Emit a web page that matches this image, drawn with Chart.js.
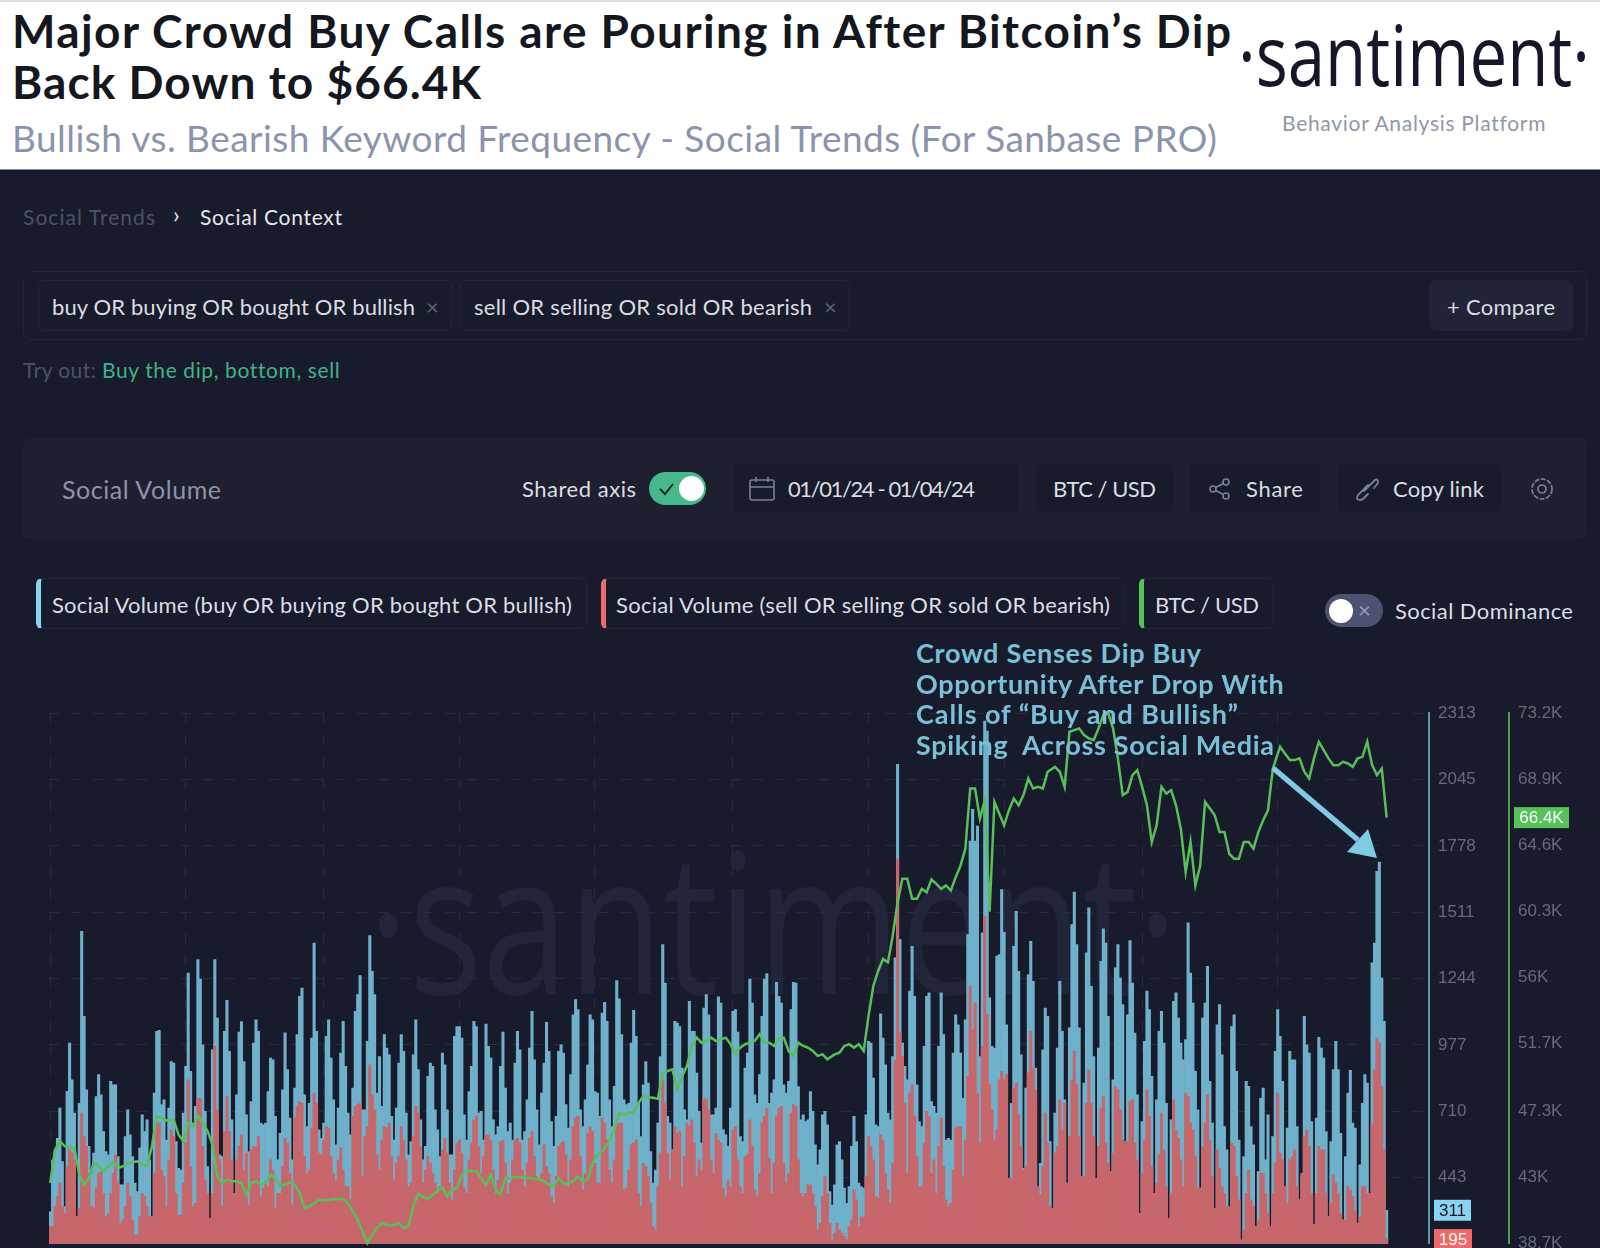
<!DOCTYPE html>
<html>
<head>
<meta charset="utf-8">
<title>Social Trends</title>
<script src="https://cdn.jsdelivr.net/npm/chart.js@4"></script>
<style>
  html, body { margin: 0; padding: 0; }
  body { width: 1600px; height: 1248px; overflow: hidden; background: #181b2b; position: relative; font-family: Lato, sans-serif; }
  .t { position: absolute; white-space: pre; line-height: 1; }
  .c { transform: translateY(-50%); }
  .box { position: absolute; box-sizing: border-box; border-radius: 6px; }
  .chip { border: 1px solid #222536; }
  .dark { background: #181b2b; }
  #head { position: absolute; left: 0; top: 0; width: 1600px; height: 170px; background: #fff; border-top: 2px solid #ddd; border-bottom: 1px solid #8b8f9c; box-sizing: border-box; }
  #chartWrap { position: absolute; left: 0; top: 690px; width: 1600px; height: 573px; }
  svg { position: absolute; overflow: visible; }
</style>
</head>
<body>
<div id="head"></div>
<div class="t" data-w="1218" style="left:12px;top:8px;font-size:46px;font-weight:700;color:#15171f">Major Crowd Buy Calls are Pouring in After Bitcoin’s Dip</div>
<div class="t" data-w="469" style="left:12px;top:59px;font-size:46px;font-weight:700;color:#15171f">Back Down to $66.4K</div>
<div class="t" data-w="1205" style="left:12px;top:119px;font-size:37px;color:#8b94ad">Bullish vs. Bearish Keyword Frequency - Social Trends (For Sanbase PRO)</div>
<div class="t" data-sx="352" style="left:1238px;top:12px;font-size:84px;font-family:'Open Sans';color:#14162a">·santiment·</div>
<div class="t" data-w="263" style="left:1282px;top:112px;font-size:21px;color:#8f97a8">Behavior Analysis Platform</div>

<div class="t" data-sx="810" style="left:368px;top:820px;font-size:196px;font-family:'Open Sans';color:#22253a">·santiment·</div>

<div class="t c" data-w="132" style="left:23px;top:216px;font-size:21px;color:#4d5266">Social Trends</div>
<div class="t c" style="left:173px;top:214px;font-size:24px;color:#e6e7ec">›</div>
<div class="t c" data-w="142" style="left:200px;top:216px;font-size:21px;color:#e6e7ec">Social Context</div>

<div class="box chip" style="left:23px;top:271px;width:1564px;height:69px;border-radius:8px"></div>
<div class="box chip" style="left:38px;top:280px;width:414px;height:51px"></div>
<div class="t c" data-w="363" style="left:52px;top:307px;font-size:22px;color:#dcdde3">buy OR buying OR bought OR bullish</div>
<div class="t c" style="left:426px;top:307px;font-size:22px;color:#5d6175">×</div>
<div class="box chip" style="left:460px;top:280px;width:390px;height:51px"></div>
<div class="t c" data-w="338" style="left:474px;top:307px;font-size:22px;color:#dcdde3">sell OR selling OR sold OR bearish</div>
<div class="t c" style="left:824px;top:307px;font-size:22px;color:#5d6175">×</div>
<div class="box" style="left:1429px;top:280px;width:144px;height:51px;background:#212436;border-radius:8px"></div>
<div class="t c" data-w="108" style="left:1447px;top:307px;font-size:22px;color:#dcdde3">+ Compare</div>

<div class="t c" data-w="73" style="left:23px;top:369px;font-size:21px;color:#4d5266">Try out:</div>
<div class="t c" data-w="237" style="left:102px;top:369px;font-size:21px;color:#3fb489">Buy the dip, bottom, sell</div>

<div class="box" style="left:23px;top:438px;width:1564px;height:101px;background:#1e2030"></div>
<div class="t c" data-w="159" style="left:62px;top:489px;font-size:25px;color:#8d93ab">Social Volume</div>
<div class="t c" data-w="114" style="left:522px;top:489px;font-size:22px;color:#dcdde3">Shared axis</div>
<div class="box" style="left:649px;top:472px;width:57px;height:33px;border-radius:17px;background:#46b98c"></div>
<div class="box" style="left:679px;top:476px;width:25px;height:25px;border-radius:13px;background:#fff"></div>
<svg style="left:659px;top:482px" width="16" height="14"><path d="M1 7 L6 12 L14 2" fill="none" stroke="#14262a" stroke-width="2"/></svg>

<div class="box dark" style="left:734px;top:464px;width:285px;height:48px"></div>
<svg style="left:749px;top:477px" width="26" height="24" fill="none" stroke="#7b8098" stroke-width="1.6"><rect x="1" y="3" width="24" height="20" rx="2"/><path d="M1 10 H25 M7 0 V5 M19 0 V5"/></svg>
<div class="t c" data-w="187" style="left:788px;top:489px;font-size:22px;color:#dcdde3">01/01/24 - 01/04/24</div>
<div class="box dark" style="left:1036px;top:464px;width:137px;height:48px"></div>
<div class="t c" data-w="103" style="left:1053px;top:489px;font-size:22px;color:#dcdde3">BTC / USD</div>
<div class="box dark" style="left:1190px;top:464px;width:130px;height:48px"></div>
<svg style="left:1209px;top:478px" width="22" height="22" fill="none" stroke="#7b8098" stroke-width="1.6"><circle cx="17" cy="4" r="3"/><circle cx="17" cy="18" r="3"/><circle cx="4" cy="11" r="3"/><path d="M14.5 5.5 L6.5 9.5 M6.5 12.5 L14.5 16.5"/></svg>
<div class="t c" data-w="57" style="left:1246px;top:489px;font-size:22px;color:#dcdde3">Share</div>
<div class="box dark" style="left:1337px;top:464px;width:164px;height:48px"></div>
<svg style="left:1353px;top:476px" width="27" height="26" fill="none" stroke="#7b8098" stroke-width="1.8" stroke-linecap="round"><path d="M11 15 L22 4 Q25 2 25 7 L21 12 M15 9 L5 19 Q2 24 7 24 Q9 24 11 22 L15 18"/></svg>
<div class="t c" data-w="91" style="left:1393px;top:489px;font-size:22px;color:#dcdde3">Copy link</div>
<svg style="left:1529px;top:476px" width="26" height="26" fill="none" stroke="#7b8098" stroke-width="1.7"><circle cx="13" cy="13" r="4"/><circle cx="13" cy="13" r="10" stroke-dasharray="5 1.5"/></svg>

<div class="box chip" style="left:36px;top:578px;width:551px;height:51px;border-left:5px solid #89d4f0"></div>
<div class="t c" data-w="520" style="left:52px;top:605px;font-size:22px;color:#dcdde3">Social Volume (buy OR buying OR bought OR bullish)</div>
<div class="box chip" style="left:601px;top:578px;width:524px;height:51px;border-left:5px solid #ef6b6b"></div>
<div class="t c" data-w="494" style="left:616px;top:605px;font-size:22px;color:#dcdde3">Social Volume (sell OR selling OR sold OR bearish)</div>
<div class="box chip" style="left:1139px;top:578px;width:135px;height:51px;border-left:5px solid #56c25a"></div>
<div class="t c" data-w="104" style="left:1155px;top:605px;font-size:22px;color:#dcdde3">BTC / USD</div>
<div class="box" style="left:1325px;top:594px;width:58px;height:33px;border-radius:17px;background:#4d5172"></div>
<div class="box" style="left:1329px;top:599px;width:24px;height:24px;border-radius:12px;background:#fff"></div>
<div class="t c" style="left:1358px;top:610px;font-size:22px;color:#9a9eb3">×</div>
<div class="t c" data-w="178" style="left:1395px;top:611px;font-size:22px;color:#dcdde3">Social Dominance</div>

<div id="chartWrap"><canvas id="chart" width="1600" height="573"></canvas></div>

<div class="t c" data-w="285" style="left:916px;top:652px;font-size:27px;font-weight:700;color:#79c0d6;z-index:5">Crowd Senses Dip Buy</div>
<div class="t c" data-w="367" style="left:916px;top:683px;font-size:27px;font-weight:700;color:#79c0d6;z-index:5">Opportunity After Drop With</div>
<div class="t c" data-w="322" style="left:916px;top:713px;font-size:27px;font-weight:700;color:#79c0d6;z-index:5">Calls of “Buy and Bullish”</div>
<div class="t c" data-w="358" style="left:916px;top:744px;font-size:27px;font-weight:700;color:#79c0d6;z-index:5">Spiking  Across Social Media</div>
<svg style="left:0;top:0;z-index:5" width="1600" height="1248"><path d="M1273 768 L1358 840" stroke="#7fcbe6" stroke-width="5.5" fill="none"/><path d="M1377 858 L1368 829 L1347 852 Z" fill="#7fcbe6"/></svg>

<script>
// Social volume per 4h bar, buy keywords
const volumeBuy = [
  305,513,547,601,722,507,326,790,984,836,702,285,742,1434,1092,796,568,460,541,769,
  857,776,628,547,534,830,816,816,527,413,413,608,715,615,527,420,386,561,695,628,
  675,514,285,783,1031,1035,736,756,594,722,910,904,588,480,473,702,890,1266,870,662,
  729,1320,1242,977,709,487,279,957,1320,1085,534,527,1031,1156,951,675,379,
  776,1028,1071,910,695,547,749,984,1078,1031,662,655,662,789,924,917,689,514,621,796,
  1025,877,682,514,803,1018,1172,1206,776,648,742,1004,1387,1031,635,601,662,1011,1078,924,
  756,574,722,944,1072,890,702,615,803,1112,1179,1256,715,715,991,1417,1273,1179,783,930,
  729,1018,964,937,689,594,722,904,1018,951,702,534,588,937,1078,877,675,514,568,
  850,904,890,715,635,527,944,897,715,534,534,1011,1051,1051,1004,695,594,789,890,1072,
  1051,702,709,594,1061,971,924,675,615,648,890,1028,803,628,662,594,904,1031,957,594,
  628,756,964,1112,917,715,574,783,904,1068,951,668,568,689,951,977,944,736,642,857,
  1098,1159,1119,715,648,756,897,1098,1078,789,783,689,1105,1148,1072,756,648,810,
  1236,1162,1018,756,736,742,984,1116,1011,742,608,816,910,823,547,420,473,662,930,1381,
  1226,689,662,554,1072,1065,1051,883,715,675,1152,1031,1031,863,709,581,1125,1179,1098,695,
  695,722,1170,1145,635,615,568,722,1112,1119,1028,608,588,883,944,1242,1145,776,742,857,
  1092,1242,1264,742,783,836,1229,1172,1145,816,783,830,1119,1229,1226,809,675,695,668,
  675,789,709,574,494,554,695,709,655,386,332,413,574,588,514,400,339,406,568,689,
  588,420,406,400,695,991,984,843,655,648,1102,1004,897,702,675,930,1327,2106,1401,984,
  890,836,1193,1374,1172,816,668,648,971,1172,1186,749,729,702,971,1186,1018,594,601,594,
  944,1098,1058,944,762,1078,1421,1797,1925,1797,1858,930,1428,2280,2240,1166,971,964,1334,
  1340,1602,1430,1058,440,742,1374,1515,1273,937,480,803,1260,1394,1233,883,400,500,957,1125,
  1092,588,319,702,964,1233,1031,756,420,1045,1461,1592,1381,1045,447,823,1347,1529,1213,930,
  440,964,1313,1444,1387,1092,467,836,1287,1381,1246,1139,588,1098,1397,1226,1024,776,299,668,
  991,1193,1119,850,379,756,1031,1112,984,742,279,675,1152,1186,1085,984,917,998,1468,
  1266,1145,870,715,400,1085,1145,1293,830,662,319,1058,1139,937,648,554,326,1051,1098,870,
  594,191,527,830,810,648,574,245,467,762,803,514,695,245,608,951,1119,1011,830,312,
  642,951,917,917,648,353,447,1092,977,944,668,252,682,1007,964,924,628,285,588,877,
  991,877,621,272,527,783,874,662,642,258,494,742,857,823,379,1307,1387,1676,1713,1246,
  1072,311
];

// Social volume per 4h bar, sell keywords
const volumeSell = [
  245,245,326,366,420,326,299,487,554,541,514,285,319,702,608,568,460,326,319,400,
  460,467,379,285,299,379,460,534,420,258,272,326,420,366,272,211,211,285,379,366,
  326,285,285,460,662,662,473,447,326,514,635,608,379,292,292,420,581,836,487,326,
  339,762,762,568,433,379,279,379,971,715,514,326,628,769,628,514,379,
  514,568,615,473,541,332,554,568,568,608,366,400,426,406,514,473,319,379,379,487,
  601,581,460,332,682,729,749,742,527,460,473,642,783,742,541,534,594,648,642,527,
  460,433,514,561,473,406,406,353,689,729,736,742,447,608,648,897,776,715,534,473,
  594,648,642,662,527,433,500,527,648,594,514,406,420,608,729,702,568,420,473,
  527,500,460,420,379,406,554,601,541,420,353,473,581,594,541,400,379,514,581,675,
  689,568,460,527,615,615,594,473,379,433,588,594,500,379,420,514,594,601,581,473,
  406,500,601,628,527,447,433,460,574,487,460,366,339,447,568,581,588,534,406,514,
  648,682,689,527,393,460,621,648,628,500,420,420,682,662,594,473,420,514,
  662,662,662,393,400,473,574,581,594,379,326,500,487,447,339,245,232,406,541,836,
  742,541,433,554,648,621,628,406,527,662,648,675,581,447,514,473,762,756,715,514,
  460,621,594,581,400,366,433,406,635,648,514,406,379,527,534,675,568,393,366,460,
  662,689,722,520,379,500,689,722,729,500,420,460,702,736,729,514,379,366,379,
  413,413,379,326,232,258,366,447,379,258,191,218,258,232,218,205,191,245,272,393,
  353,245,285,285,447,608,568,514,366,359,615,594,460,393,339,500,917,1723,1025,930,
  742,460,783,816,689,527,406,406,581,709,689,460,514,379,568,682,487,353,326,339,
  473,642,648,648,447,594,850,1213,1038,1145,783,581,971,1495,1100,816,715,594,635,
  836,870,836,857,440,440,803,823,695,568,473,487,863,1031,883,796,406,373,487,702,
  581,326,319,541,568,756,635,742,420,608,836,951,816,608,447,447,742,877,742,608,
  440,568,722,769,581,500,467,541,810,796,715,594,588,588,749,756,581,514,299,460,
  594,796,689,487,379,420,534,702,554,406,279,379,756,635,601,514,406,783,769,
  662,635,527,400,400,568,662,776,594,447,319,554,480,406,379,326,326,581,568,447,
  353,191,232,379,473,353,326,245,272,460,460,379,299,245,379,500,783,541,514,406,
  339,514,527,554,406,353,460,608,635,568,379,252,379,568,554,554,379,285,339,453,
  420,379,299,272,272,406,393,366,312,258,285,406,406,379,379,655,877,1004,984,810,
  554,195
];

// BTC / USD, read about every second bar
const btcPrice = [
  42650,44820,45370,45040,44930,44930,43190,42540,42970,43950,43740,43410,43740,44060,43630,43740,43950,44000,44060,43840,
  43740,45040,46990,46780,46670,46780,45800,45370,46560,46340,46990,46560,46020,45150,43080,42650,42870,42760,42760,
  42650,41890,42650,42760,42540,42650,43190,42970,42470,42540,42690,42540,42000,41020,41130,41340,41560,41520,41560,41610,
  41610,41610,41340,40800,40260,39500,38740,39280,39720,40040,39870,39930,40040,39720,39890,41130,41950,41740,41610,
  41890,42110,42370,41780,42210,42320,43190,43410,43450,43410,42970,42540,43190,42210,41890,42970,42970,43040,43040,42970,
  42970,42910,42910,42760,42540,42470,42970,42600,42650,42760,43080,42760,42870,43950,44500,44710,45370,46130,47210,
  47100,47210,47210,47860,48300,48230,48190,48120,49820,49930,50040,48730,49600,50250,51560,52100,51770,51880,52100,51880,
  51990,52100,51670,51010,51450,51670,51770,51880,52320,51770,51770,51560,52100,52100,51230,50910,51770,51560,51450,
  51230,50910,51010,50690,51010,51120,51560,51670,51450,51670,51230,53510,55470,56450,57210,56990,58730,60900,62420,62420,
  61120,61120,61770,61550,62380,62100,61770,61990,61660,62530,63290,64380,68290,68290,66330,67530,60290,67420,
  66660,65900,66880,67640,67200,67860,68940,68290,68400,68290,69380,69700,69380,68400,71980,72090,72200,71770,71550,71440,
  72200,73070,73180,72200,70250,67860,68070,69160,69480,68400,67200,64810,65900,68400,67960,68180,67200,65680,62860,
  64810,61990,63290,67420,66990,66550,65460,65460,64050,63730,63730,64810,64810,64380,65460,66230,66880,69590,71010,70570,
  70140,70140,70250,69380,68940,70250,71330,70790,70250,69810,69810,70030,69920,69700,70250,70350,71330,69810,69160,69590,
  66400
];

// tick labels and vertical grid positions
const volumeTicks = [2313, 2045, 1778, 1511, 1244, 977, 710, 443];
const priceTicks = [73200, 68900, 64600, 60300, 56000, 51700, 47300, 43000, 38700];
const gridBars = [0, 56, 113, 169, 225, 282, 338, 394, 451, 507];
const futureSlots = 17;

// bar time slots, empty ones after the last bar leave the gap before the axis
const barDates = [];
for (let i = 0; i < volumeBuy.length + futureSlots; i++) {
  barDates.push(new Date(Date.UTC(2024, 0, 1, i * 4)).toISOString().slice(0, 13));
}

// price has fewer readings than bars, the line spans the empty slots
const btcLine = barDates.map(() => null);
btcPrice.forEach((v, k) => {
  btcLine[Math.round(k * (volumeBuy.length - 1) / (btcPrice.length - 1))] = v;
});

function fmtPrice(v) {
  return (v / 1000) + 'K';
}

// fit text to the measured reference widths
document.querySelectorAll('[data-w]').forEach(el => {
  const gap = +el.dataset.w - el.getBoundingClientRect().width;
  el.style.letterSpacing = (gap / (el.textContent.length - 1)) + 'px';
});
document.querySelectorAll('[data-sx]').forEach(el => {
  el.style.transformOrigin = 'left top';
  el.style.transform = 'scaleX(' + (+el.dataset.sx / el.getBoundingClientRect().width) + ')';
});

// last value badges on the two right axes
const badgePlugin = {
  id: 'badges',
  afterDraw(chart) {
    const ctx = chart.ctx;
    const y = chart.scales.y, y1 = chart.scales.y1;
    const badge = (text, left, width, mid, bg, fg) => {
      ctx.fillStyle = bg;
      ctx.fillRect(left, mid - 10.5, width, 21);
      ctx.fillStyle = fg;
      ctx.font = '17px "Liberation Sans"';
      ctx.textAlign = 'center';
      ctx.textBaseline = 'middle';
      ctx.fillText(text, left + width / 2, mid + 1);
    };
    const lastBuy = volumeBuy[volumeBuy.length - 1];
    const lastSell = volumeSell[volumeSell.length - 1];
    const lastBtc = btcPrice[btcPrice.length - 1];
    badge(String(lastBuy), 1434, 37, y.getPixelForValue(lastBuy), '#89d4f0', '#14162a');
    badge(String(lastSell), 1434, 38, y.getPixelForValue(lastSell) + 0.5, '#ef6b6b', '#fff');
    badge((lastBtc / 1000).toFixed(1) + 'K', 1514, 55, y1.getPixelForValue(lastBtc), '#56c25a', '#fff');
  }
};

const gridColor = '#282b3c';

new Chart(document.getElementById('chart'), {
  data: {
    labels: barDates,
    datasets: [
      { type: 'line', data: btcLine, yAxisID: 'y1', order: 0, spanGaps: true, borderColor: '#58bf5a', borderWidth: 2.5, pointRadius: 0, tension: 0, clip: false },
      { type: 'bar', data: volumeSell, yAxisID: 'y', order: 1, grouped: false, backgroundColor: '#c7666b', barPercentage: 1, categoryPercentage: 1 },
      { type: 'bar', data: volumeBuy, yAxisID: 'y', order: 2, grouped: false, backgroundColor: '#6fb1cb', barPercentage: 1, categoryPercentage: 1 }
    ]
  },
  options: {
    responsive: false,
    maintainAspectRatio: false,
    animation: false,
    layout: { padding: { left: 49, top: 23, bottom: 6, right: 0 } },
    plugins: { legend: { display: false }, tooltip: { enabled: false } },
    scales: {
      x: {
        ticks: { display: false },
        afterBuildTicks(scale) {
          scale.ticks = gridBars.map(v => ({ value: v }));
        },
        grid: { color: gridColor, drawTicks: false, lineWidth: 1, offset: false },
        border: { display: false, dash: [10, 12] }
      },
      y: {
        position: 'right',
        weight: 0,
        min: 176,
        max: 2313,
        afterBuildTicks(scale) {
          scale.ticks = volumeTicks.map(v => ({ value: v }));
        },
        afterFit(scale) { scale.width = 80; },
        ticks: { color: '#666a7b', font: { family: 'Liberation Sans', size: 17 }, padding: 9, callback: v => String(v) },
        grid: { color: gridColor, drawTicks: false },
        border: { color: '#5d97b3', width: 2, dash: [10, 12] }
      },
      y1: {
        position: 'right',
        weight: 1,
        min: 38700,
        max: 73200,
        afterBuildTicks(scale) {
          scale.ticks = priceTicks.map(v => ({ value: v }));
        },
        afterFit(scale) { scale.width = 91; },
        ticks: { color: '#666a7b', font: { family: 'Liberation Sans', size: 17 }, padding: 9, callback: fmtPrice },
        grid: { drawOnChartArea: false, drawTicks: false },
        border: { color: '#4f9d4b', width: 2 }
      }
    }
  },
  plugins: [badgePlugin]
});
</script>
</body>
</html>
